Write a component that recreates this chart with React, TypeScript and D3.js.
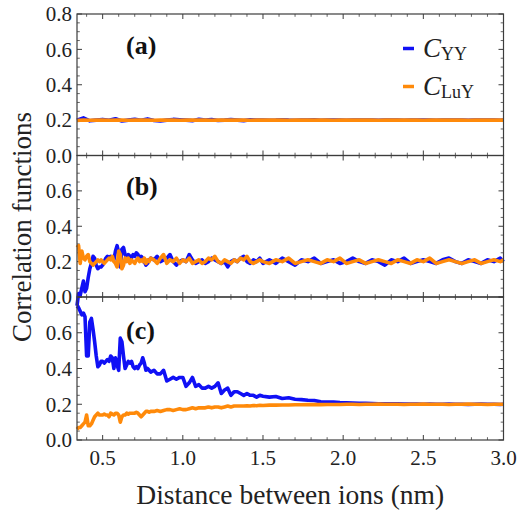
import React from 'react';
import * as d3 from 'd3';

// ---------- data ----------
const X_MAIN = [
  0.34,0.35,0.36,0.37,0.38,0.39,0.40,0.41,0.42,0.43,0.44,0.45,0.46,0.47,0.48,0.49,0.50,0.51,0.52,0.53,
  0.54,0.55,0.56,0.57,0.58,0.59,0.60,0.61,0.62,0.63,0.64,0.65,0.66,0.67,0.68,0.69,0.70,0.71,0.72,0.73,
  0.74,0.75,0.76,0.77,0.78,0.79,0.80,
  0.82,0.84,0.86,0.88,0.90,0.92,0.94,0.96,0.98,1.00,1.02,1.04,1.06,1.08,1.10,1.12,1.14,1.16,1.18,1.20,
  1.22,1.24,1.26,1.28,1.30,1.32,1.34,1.36,1.38,1.40,1.42,1.44,1.46,1.48,1.50,
  1.54,1.58,1.62,1.66,1.70,1.74,1.78,1.82,1.86,1.90,1.94,1.98,2.02,2.06,2.10,2.14,2.18,2.22,2.26,2.30,
  2.34,2.38,2.42,2.46,2.50,2.54,2.58,2.62,2.66,2.70,2.74,2.78,2.82,2.86,2.90,2.94,2.98,3.00,
];

const X_A = [
  0.34,0.38,0.42,0.46,0.50,0.54,0.58,0.62,0.66,0.70,0.74,0.78,0.82,0.86,0.90,0.94,0.98,1.02,1.06,1.10,
  1.14,1.18,1.22,1.26,1.30,1.34,1.38,1.42,1.46,1.50,1.54,1.58,1.62,1.66,1.70,1.74,1.78,1.82,1.86,1.90,
  1.94,1.98,2.02,2.06,2.10,2.14,2.18,2.22,2.26,2.30,2.34,2.38,2.42,2.46,2.50,2.54,2.58,2.62,2.66,2.70,
  2.74,2.78,2.82,2.86,2.90,2.94,2.98,3.00,
];

// panel (a)
const A_YY = [
  0.200,0.213,0.196,0.200,0.204,0.199,0.208,0.195,0.200,0.205,
  0.199,0.207,0.198,0.195,0.200,0.204,0.202,0.200,0.197,0.205,
  0.200,0.203,0.198,0.200,0.203,0.200,0.197,0.202,0.200,0.201,
  0.199,0.200,0.202,0.200,0.199,0.201,0.200,0.202,0.199,0.200,
  0.201,0.200,0.199,0.201,0.200,0.200,0.201,0.199,0.200,0.201,
  0.200,0.199,0.200,0.201,0.200,0.200,0.199,0.201,0.200,0.200,
  0.201,0.199,0.200,0.200,0.201,0.200,0.199,0.200,
];
const A_LUY = [
  0.198,0.201,0.199,0.200,0.201,0.199,0.200,0.200,0.199,0.201,
  0.200,0.200,0.199,0.200,0.201,0.200,0.199,0.200,0.200,0.201,
  0.200,0.199,0.200,0.200,0.201,0.200,0.200,0.199,0.200,0.200,
  0.201,0.200,0.200,0.199,0.200,0.200,0.201,0.200,0.200,0.200,
  0.199,0.200,0.200,0.201,0.200,0.200,0.200,0.199,0.200,0.200,
  0.201,0.200,0.200,0.200,0.199,0.200,0.200,0.201,0.200,0.200,
  0.200,0.199,0.200,0.200,0.201,0.200,0.200,0.200,
];

// panel (b)
const B_YY = [
  -0.05,0.02,0.01,0.05,0.09,0.03,0.05,0.11,0.16,0.19,
  0.23,0.22,0.18,0.16,0.17,0.17,0.18,0.20,0.22,0.23,
  0.22,0.23,0.22,0.21,0.26,0.29,0.25,0.17,0.27,0.28,
  0.24,0.22,0.24,0.23,0.22,0.24,0.23,0.25,0.24,0.22,
  0.23,0.22,0.20,0.18,0.19,0.21,0.22,
  0.21,0.23,0.20,0.21,0.22,0.24,0.20,0.18,0.20,0.21,
  0.20,0.24,0.21,0.19,0.20,0.21,0.19,0.20,0.22,0.21,
  0.20,0.19,0.20,0.17,0.20,0.21,0.20,0.22,0.23,0.20,
  0.19,0.21,0.20,0.22,0.19,
  0.21,0.19,0.22,0.20,0.18,0.21,0.20,0.22,0.19,0.20,
  0.21,0.19,0.20,0.22,0.20,0.19,0.21,0.20,0.18,0.21,
  0.20,0.22,0.19,0.20,0.21,0.20,0.19,0.21,0.22,0.20,
  0.19,0.21,0.20,0.19,0.21,0.20,0.22,0.20,
];
const B_LUY = [
  0.28,0.29,0.19,0.26,0.22,0.21,0.23,0.24,0.20,0.19,
  0.18,0.19,0.20,0.21,0.20,0.21,0.20,0.19,0.20,0.21,
  0.22,0.21,0.23,0.20,0.19,0.17,0.26,0.24,0.16,0.18,
  0.22,0.20,0.22,0.19,0.21,0.20,0.19,0.21,0.22,0.20,
  0.21,0.20,0.22,0.19,0.21,0.20,0.22,
  0.21,0.19,0.22,0.24,0.19,0.21,0.20,0.22,0.19,0.21,
  0.20,0.22,0.19,0.20,0.21,0.19,0.20,0.22,0.21,0.23,
  0.20,0.19,0.21,0.20,0.19,0.21,0.20,0.22,0.21,0.23,
  0.20,0.19,0.20,0.21,0.20,
  0.19,0.21,0.20,0.22,0.19,0.20,0.21,0.20,0.19,0.21,
  0.20,0.22,0.19,0.20,0.21,0.19,0.20,0.21,0.20,0.19,
  0.21,0.20,0.19,0.21,0.20,0.22,0.19,0.20,0.21,0.20,
  0.19,0.20,0.21,0.19,0.20,0.21,0.20,0.21,
];

// panel (c)
const C_YY = [
  0.75,0.74,0.72,0.70,0.71,0.69,0.47,0.47,0.66,0.68,
  0.62,0.55,0.47,0.41,0.42,0.44,0.44,0.43,0.44,0.45,
  0.44,0.47,0.46,0.40,0.46,0.42,0.39,0.57,0.55,0.47,
  0.40,0.42,0.44,0.43,0.44,0.41,0.40,0.41,0.40,0.42,
  0.43,0.46,0.43,0.39,0.40,0.39,0.38,
  0.39,0.37,0.37,0.39,0.33,0.34,0.35,0.34,0.35,0.35,
  0.30,0.32,0.35,0.30,0.31,0.29,0.29,0.30,0.29,0.30,
  0.32,0.26,0.28,0.29,0.25,0.27,0.27,0.26,0.25,0.26,
  0.25,0.25,0.24,0.25,0.245,
  0.24,0.243,0.232,0.236,0.228,0.226,0.222,0.221,0.214,0.212,
  0.212,0.209,0.208,0.207,0.206,0.205,0.204,0.203,0.203,0.202,
  0.202,0.201,0.201,0.201,0.200,0.201,0.200,0.200,0.201,0.200,
  0.200,0.199,0.200,0.201,0.200,0.200,0.199,0.200,
];
const C_LUY = [
  0.06,0.07,0.07,0.08,0.09,0.10,0.14,0.08,0.08,0.09,
  0.11,0.13,0.14,0.15,0.14,0.14,0.14,0.145,0.14,0.14,
  0.13,0.15,0.145,0.14,0.15,0.15,0.14,0.10,0.13,0.14,
  0.14,0.15,0.145,0.15,0.15,0.15,0.15,0.155,0.15,0.14,
  0.13,0.14,0.15,0.16,0.16,0.155,0.16,
  0.16,0.165,0.16,0.165,0.17,0.17,0.165,0.17,0.175,0.17,
  0.17,0.175,0.18,0.175,0.18,0.18,0.18,0.185,0.18,0.185,
  0.185,0.18,0.185,0.19,0.185,0.19,0.19,0.19,0.19,0.192,
  0.19,0.193,0.192,0.194,0.193,
  0.195,0.195,0.196,0.196,0.197,0.197,0.198,0.198,0.198,0.199,
  0.199,0.199,0.200,0.200,0.199,0.200,0.200,0.201,0.200,0.200,
  0.200,0.199,0.200,0.200,0.201,0.200,0.200,0.200,0.199,0.200,
  0.200,0.201,0.200,0.200,0.199,0.200,0.200,0.200,
];

const X_TICKS = [0.5, 1.0, 1.5, 2.0, 2.5, 3.0];
const X_MINOR = [0.4,0.6,0.7,0.8,0.9,1.1,1.2,1.3,1.4,1.6,1.7,1.8,1.9,2.1,2.2,2.3,2.4,2.6,2.7,2.8,2.9];
const Y_TICKS = [0.0, 0.2, 0.4, 0.6, 0.8];
const Y_MINOR = [0.05,0.1,0.15,0.25,0.3,0.35,0.45,0.5,0.55,0.65,0.7,0.75];
const PANEL_LABELS = ['(a)', '(b)', '(c)'];
const SERIES_NAMES = ['YY', 'LuY'];

// ---------- layout ----------
const W = 520, H = 513;
const LEFT = 77, RIGHT = 503.5;
const EDGES = [14, 155.5, 297, 440];
const BLUE = '#1010f5';
const ORANGE = '#ff8a0a';
const FRAME = '#3c3c3c';
const FONT = 'Liberation Serif';

const panels = [
  { xs: X_A, yy: A_YY, luy: A_LUY, labels: [0, 0.2, 0.4, 0.6, 0.8] },
  { xs: X_MAIN, yy: B_YY, luy: B_LUY, labels: [0, 0.2, 0.4, 0.6] },
  { xs: X_MAIN, yy: C_YY, luy: C_LUY, labels: [0, 0.2, 0.4, 0.6] },
];

function T(props: any) {
  const { children, style, ...rest } = props;
  return (
    <text fontFamily={FONT} style={{ fontFamily: FONT, ...(style || {}) }} {...rest}>
      {children}
    </text>
  );
}

export default function App() {
  const x = d3.scaleLinear().domain([0.34, 3.0]).range([LEFT, RIGHT]);
  const fmt = d3.format('.1f');

  return (
    <svg width={W} height={H} fontFamily={FONT}
      style={{ position: 'absolute', left: 0, top: 0, background: '#fff', fontFamily: FONT }}>
      {panels.map((p, i) => {
        const top = EDGES[i], bot = EDGES[i + 1];
        const y = d3.scaleLinear().domain([0, 0.8]).range([bot, top]);
        const line = (vals: number[]) =>
          d3.line<number>().x((_, k) => x(p.xs[k])).y((v) => y(v))(vals) || '';
        return (
          <g key={i}>
            {Y_TICKS.map((t) => (
              <g key={'ym' + t} stroke={FRAME} strokeWidth={1}>
                <line x1={LEFT} x2={LEFT + 5} y1={y(t)} y2={y(t)} />
                <line x1={RIGHT} x2={RIGHT - 5} y1={y(t)} y2={y(t)} />
              </g>
            ))}
            {Y_MINOR.map((t) => (
              <g key={'yn' + t} stroke={FRAME} strokeWidth={0.8}>
                <line x1={LEFT} x2={LEFT + 2.8} y1={y(t)} y2={y(t)} />
                <line x1={RIGHT} x2={RIGHT - 2.8} y1={y(t)} y2={y(t)} />
              </g>
            ))}
            {X_TICKS.map((t) => (
              <g key={'xm' + t} stroke={FRAME} strokeWidth={1}>
                <line x1={x(t)} x2={x(t)} y1={top} y2={top + 5} />
                <line x1={x(t)} x2={x(t)} y1={bot} y2={bot - 5} />
              </g>
            ))}
            {X_MINOR.map((t) => (
              <g key={'xn' + t} stroke={FRAME} strokeWidth={0.8}>
                <line x1={x(t)} x2={x(t)} y1={top} y2={top + 2.8} />
                <line x1={x(t)} x2={x(t)} y1={bot} y2={bot - 2.8} />
              </g>
            ))}
            {p.labels.map((t) => (
              <T key={'yl' + t} x={72} y={y(t)} dy="0.35em" textAnchor="end" fontSize={21} fill="#222">
                {fmt(t)}
              </T>
            ))}
            <path d={line(p.yy)} fill="none" stroke={BLUE} strokeWidth={3.6} strokeLinejoin="round" />
            <path d={line(p.luy)} fill="none" stroke={ORANGE} strokeWidth={3.6} strokeLinejoin="round" />
            <rect x={LEFT} y={top} width={RIGHT - LEFT} height={bot - top} fill="none" stroke={FRAME} strokeWidth={1.2} />
            <T x={126} y={[54, 195, 339][i]} fontSize={26} fontWeight="bold" fill="#111">
              {PANEL_LABELS[i]}
            </T>
          </g>
        );
      })}

      {X_TICKS.map((t) => (
        <T key={'xl' + t} x={x(t)} y={465} textAnchor="middle" fontSize={21} fill="#222">
          {fmt(t)}
        </T>
      ))}

      <T x={(LEFT + RIGHT) / 2} y={504} textAnchor="middle" fontSize={27.5} fill="#222">
        Distance between ions (nm)
      </T>
      <T transform={`translate(31,${(EDGES[0] + EDGES[3]) / 2}) rotate(-90)`} textAnchor="middle"
        fontSize={27} fill="#222">
        Correlation functions
      </T>

      {SERIES_NAMES.map((name, k) => {
        const cy = [48.5, 86.5][k];
        return (
          <g key={name}>
            <line x1={403} x2={414} y1={cy} y2={cy} stroke={k === 0 ? BLUE : ORANGE} strokeWidth={3.5} />
            <T x={423} y={cy + 8.5} fontSize={27} fill="#222">
              <tspan fontStyle="italic">C</tspan>
              <tspan fontSize={18} dy={3}>{name}</tspan>
            </T>
          </g>
        );
      })}
    </svg>
  );
}
